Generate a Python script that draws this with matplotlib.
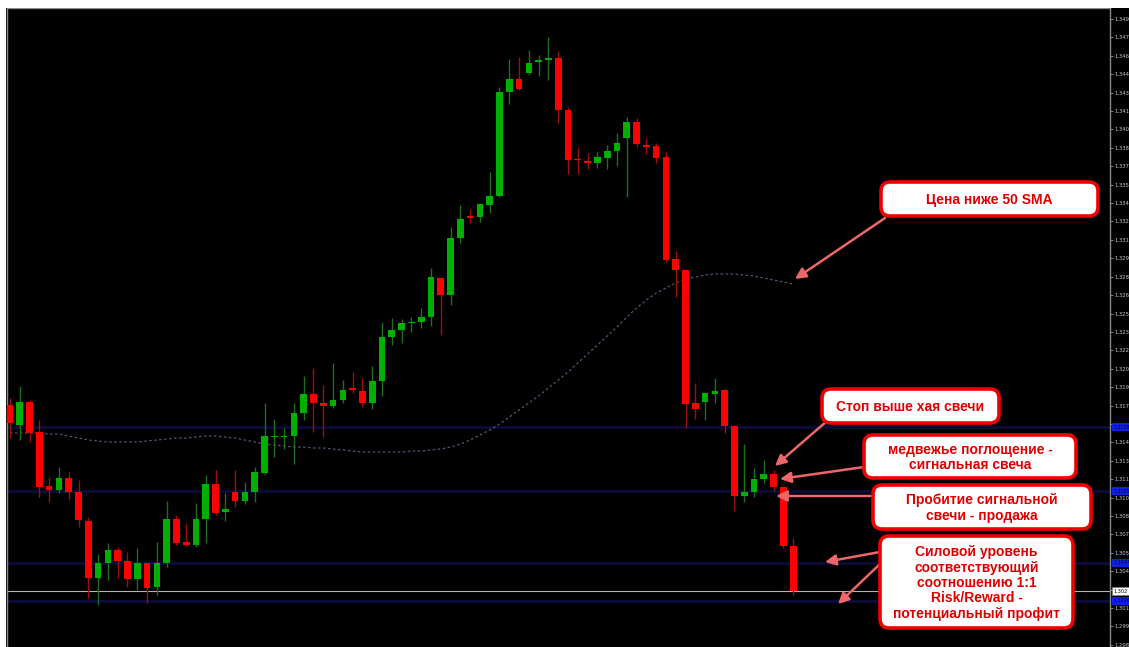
import matplotlib
matplotlib.use('Agg')
import matplotlib.pyplot as plt
import matplotlib.transforms as mtransforms
from matplotlib.patches import FancyBboxPatch, Rectangle

# candle data (EURUSD-like)
opens = [1.31754, 1.31591, 1.31779, 1.31534, 1.31094, 1.31062, 1.31159, 1.31045, 1.30809, 1.30344,
         1.30467, 1.30573, 1.30483, 1.30336, 1.30467, 1.30271, 1.30467, 1.30825, 1.30638, 1.30613,
         1.30825, 1.31110, 1.30882, 1.31045, 1.30972, 1.31045, 1.31200, 1.31493, 1.31493, 1.31502,
         1.31689, 1.31844, 1.31771, 1.31746, 1.31795, 1.31893, 1.31868, 1.31771, 1.31950, 1.32308,
         1.32366, 1.32423, 1.32431, 1.32471, 1.32789, 1.32651, 1.33115, 1.33295, 1.33286, 1.33384,
         1.33458, 1.34305, 1.34411, 1.34460, 1.34550, 1.34566, 1.34582, 1.34159, 1.33759, 1.33743,
         1.33727, 1.33767, 1.33824, 1.33930, 1.34061, 1.33873, 1.33865, 1.33775, 1.32944, 1.32855,
         1.31771, 1.31779, 1.31844, 1.31877, 1.31583, 1.31013, 1.31045, 1.31151, 1.31192, 1.31086,
         1.30605]
highs = [1.31811, 1.31909, 1.31795, 1.31632, 1.31167, 1.31249, 1.31208, 1.31143, 1.30841, 1.30540,
         1.30630, 1.30597, 1.30556, 1.30589, 1.30467, 1.30638, 1.30972, 1.30858, 1.30793, 1.30956,
         1.31184, 1.31225, 1.31037, 1.31225, 1.31127, 1.31249, 1.31771, 1.31640, 1.31567, 1.31771,
         1.31991, 1.32056, 1.31917, 1.32097, 1.31958, 1.32023, 1.31974, 1.32072, 1.32431, 1.32463,
         1.32455, 1.32471, 1.32545, 1.32871, 1.32797, 1.33205, 1.33384, 1.33352, 1.33401, 1.33653,
         1.34346, 1.34574, 1.34590, 1.34648, 1.34607, 1.34753, 1.34639, 1.34183, 1.33857, 1.33808,
         1.33816, 1.33873, 1.33971, 1.34101, 1.34093, 1.33930, 1.33890, 1.33816, 1.33009, 1.32863,
         1.31934, 1.31860, 1.31974, 1.31885, 1.31591, 1.31436, 1.31241, 1.31306, 1.31225, 1.31094,
         1.30670]
lows = [1.31485, 1.31469, 1.31453, 1.31004, 1.30964, 1.31037, 1.30980, 1.30760, 1.30181, 1.30124,
        1.30328, 1.30344, 1.30271, 1.30247, 1.30141, 1.30206, 1.30434, 1.30613, 1.30605, 1.30597,
        1.30630, 1.30858, 1.30809, 1.30923, 1.30947, 1.30964, 1.31184, 1.31330, 1.31396, 1.31273,
        1.31632, 1.31534, 1.31493, 1.31730, 1.31771, 1.31852, 1.31738, 1.31722, 1.31828, 1.32243,
        1.32260, 1.32349, 1.32382, 1.32398, 1.32325, 1.32569, 1.33075, 1.33238, 1.33246, 1.33319,
        1.33449, 1.34207, 1.34322, 1.34444, 1.34436, 1.34403, 1.34053, 1.33637, 1.33637, 1.33678,
        1.33686, 1.33678, 1.33702, 1.33449, 1.33857, 1.33800, 1.33727, 1.32920, 1.32634, 1.31567,
        1.31640, 1.31632, 1.31771, 1.31526, 1.30890, 1.30964, 1.31004, 1.31119, 1.31053, 1.30589,
        1.30206]
closes = [1.31608, 1.31779, 1.31526, 1.31086, 1.31062, 1.31159, 1.31045, 1.30817, 1.30344, 1.30467,
          1.30573, 1.30483, 1.30336, 1.30467, 1.30263, 1.30467, 1.30825, 1.30630, 1.30613, 1.30825,
          1.31110, 1.30874, 1.30907, 1.30972, 1.31045, 1.31208, 1.31502, 1.31502, 1.31502, 1.31689,
          1.31844, 1.31771, 1.31746, 1.31795, 1.31877, 1.31877, 1.31771, 1.31950, 1.32308, 1.32366,
          1.32423, 1.32431, 1.32471, 1.32797, 1.32651, 1.33115, 1.33270, 1.33278, 1.33392, 1.33458,
          1.34305, 1.34411, 1.34330, 1.34542, 1.34566, 1.34582, 1.34159, 1.33751, 1.33751, 1.33727,
          1.33775, 1.33824, 1.33890, 1.34061, 1.33881, 1.33857, 1.33767, 1.32936, 1.32855, 1.31762,
          1.31722, 1.31852, 1.31868, 1.31583, 1.31013, 1.31045, 1.31151, 1.31192, 1.31086, 1.30605,
          1.30238]
sma50 = [1.31526, 1.31526, 1.31526, 1.31526, 1.31518, 1.31518, 1.31502, 1.31485, 1.31469, 1.31461,
         1.31453, 1.31453, 1.31453, 1.31453, 1.31461, 1.31469, 1.31477, 1.31485, 1.31485, 1.31493,
         1.31502, 1.31502, 1.31493, 1.31485, 1.31469, 1.31453, 1.31436, 1.31428, 1.31420, 1.31412,
         1.31412, 1.31404, 1.31404, 1.31396, 1.31388, 1.31379, 1.31371, 1.31371, 1.31371, 1.31371,
         1.31371, 1.31379, 1.31379, 1.31388, 1.31396, 1.31412, 1.31436, 1.31469, 1.31510, 1.31551,
         1.31599, 1.31656, 1.31714, 1.31771, 1.31828, 1.31893, 1.31958, 1.32023, 1.32097, 1.32170,
         1.32243, 1.32317, 1.32390, 1.32471, 1.32545, 1.32610, 1.32667, 1.32708, 1.32749, 1.32781,
         1.32797, 1.32814, 1.32822, 1.32822, 1.32822, 1.32814, 1.32806, 1.32789, 1.32773, 1.32757,
         1.32740]

levels = [1.31575, 1.31053, 1.30467, 1.30157]
level_labels = ['1.3158', '1.3105', '1.3047', '1.3016']
last_price = '1.302'

tick_vals = [1.2980, 1.2995, 1.3010, 1.3025, 1.3040, 1.3055, 1.3070, 1.3085, 1.3100, 1.3115,
             1.3130, 1.3145, 1.3160, 1.3175, 1.3190, 1.3205, 1.3220, 1.3235, 1.3250, 1.3265,
             1.3280, 1.3295, 1.3310, 1.3325, 1.3340, 1.3355, 1.3370, 1.3385, 1.3400, 1.3415,
             1.3430, 1.3445, 1.3460, 1.3475, 1.3490]
# labels hidden under the price boxes are left blank, as on the terminal
tick_labels = ['1.298', '1.299', '1.301', '', '1.304', '1.305', '1.307', '1.308', '1.310', '1.311',
               '1.313', '1.314', '', '1.317', '1.319', '1.320', '1.322', '1.323', '1.325', '1.326',
               '1.328', '1.329', '1.331', '1.332', '1.334', '1.335', '1.337', '1.338', '1.340', '1.341',
               '1.343', '1.344', '1.346', '1.347', '1.349']

notes = ['Цена ниже 50 SMA',
         'Стоп выше хая свечи',
         'медвежье поглощение -\nсигнальная свеча',
         'Пробитие сигнальной\nсвечи - продажа',
         'Силовой уровень\nсоответствующий\nсоотношению 1:1\nRisk/Reward -\nпотенциальный профит']

W, H = 1129, 647
fig = plt.figure(figsize=(W / 100, H / 100), dpi=100)
fig.patch.set_facecolor('black')
# white frame strips at top and left
fig.add_artist(Rectangle((0, 1 - 8 / H), 1, 8 / H, transform=fig.transFigure, fc='white', ec='none'))
fig.add_artist(Rectangle((0, 0), 6 / W, 1, transform=fig.transFigure, fc='white', ec='none'))

ax = fig.add_axes([7 / W, 0, 1103 / W, 639 / H])
ax.set_facecolor('black')

n = len(opens)
for i in range(n):
    o, h, l, c = opens[i], highs[i], lows[i], closes[i]
    up = c >= o
    body_col = '#00b000' if up else '#ff0000'
    wick_col = '#1f6e1f' if up else '#9a1010'
    ax.vlines(i, l, h, color=wick_col, lw=1.0, zorder=3)
    ax.bar(i, max(abs(c - o), 0.00009), bottom=min(o, c), width=0.68,
           color=body_col, edgecolor='none', zorder=4)

ax.plot(range(n), sma50, color='#5e5078', lw=0.9, ls=(0, (2, 2)), zorder=2)

for lv in levels:
    ax.axhline(lv, color='#0b0b3a', lw=2.2, zorder=1)
ax.axhline(closes[-1], color='#b4b4b4', lw=0.8, zorder=1)

ax.set_xlim(-0.306, 112.36)
ax.set_ylim(1.29782, 1.34990)
ax.set_xticks([])
ax.yaxis.tick_right()
ax.set_yticks(tick_vals)
ax.set_yticklabels(tick_labels)
ax.tick_params(axis='y', colors='#9a9a9a', labelcolor='#c8c8c8', labelsize=3.8,
               length=2, width=0.6, pad=1.5)
for side in ['left', 'top', 'right']:
    ax.spines[side].set_color('#8a8a8a')
    ax.spines[side].set_linewidth(1)
ax.spines['bottom'].set_visible(False)

# price labels on the right scale
trans = mtransforms.blended_transform_factory(ax.transAxes, ax.transData)
for lv, lab in zip(levels, level_labels):
    ax.text(1.003, lv, lab, transform=trans, fontsize=3.4, color='#000050', va='center', ha='left',
            clip_on=False, zorder=6,
            bbox=dict(boxstyle='square,pad=0.35', fc='#1020e0', ec='none'))
ax.text(1.003, closes[-1], last_price, transform=trans, fontsize=3.6, color='black', va='center',
        ha='left', clip_on=False, zorder=7,
        bbox=dict(boxstyle='square,pad=0.35', fc='white', ec='#808080', lw=0.5))

# overlay in pixel units for the callouts
ov = fig.add_axes([0, 0, 1, 1])
ov.set_xlim(0, W)
ov.set_ylim(H, 0)
ov.axis('off')
ov.patch.set_alpha(0)

boxes = [(881, 182, 1098, 216), (822, 389, 999, 423), (864, 435, 1076, 478),
         (873, 485, 1091, 529), (880, 536, 1073, 628)]
for (x0, y0, x1, y1), txt in zip(boxes, notes):
    ov.add_patch(FancyBboxPatch((x0 + 4, y0 + 4), x1 - x0 - 8, y1 - y0 - 8,
                                boxstyle='round,pad=4,rounding_size=9',
                                fc='white', ec='#f00000', lw=2.6, zorder=5))
    ov.text((x0 + x1) / 2, (y0 + y1) / 2 + 1, txt, ha='center', va='center', color='#e00000',
            fontsize=10, fontweight='bold', family=['Liberation Sans', 'DejaVu Sans'],
            linespacing=1.12, zorder=6)

arrows = [((885, 218), (795, 279)),
          ((827, 421), (775, 466)),
          ((864, 467), (780, 479)),
          ((873, 496), (776, 496)),
          ((880, 552), (825, 562)),
          ((881, 563), (838, 604))]
for (sx, sy), (ex, ey) in arrows:
    ov.annotate('', xy=(ex, ey), xytext=(sx, sy),
                arrowprops=dict(arrowstyle='-|>', color='#ec6868', lw=1.8,
                                mutation_scale=16, shrinkA=0, shrinkB=0), zorder=4)

fig.savefig('out.png', dpi=100, facecolor=fig.get_facecolor())
